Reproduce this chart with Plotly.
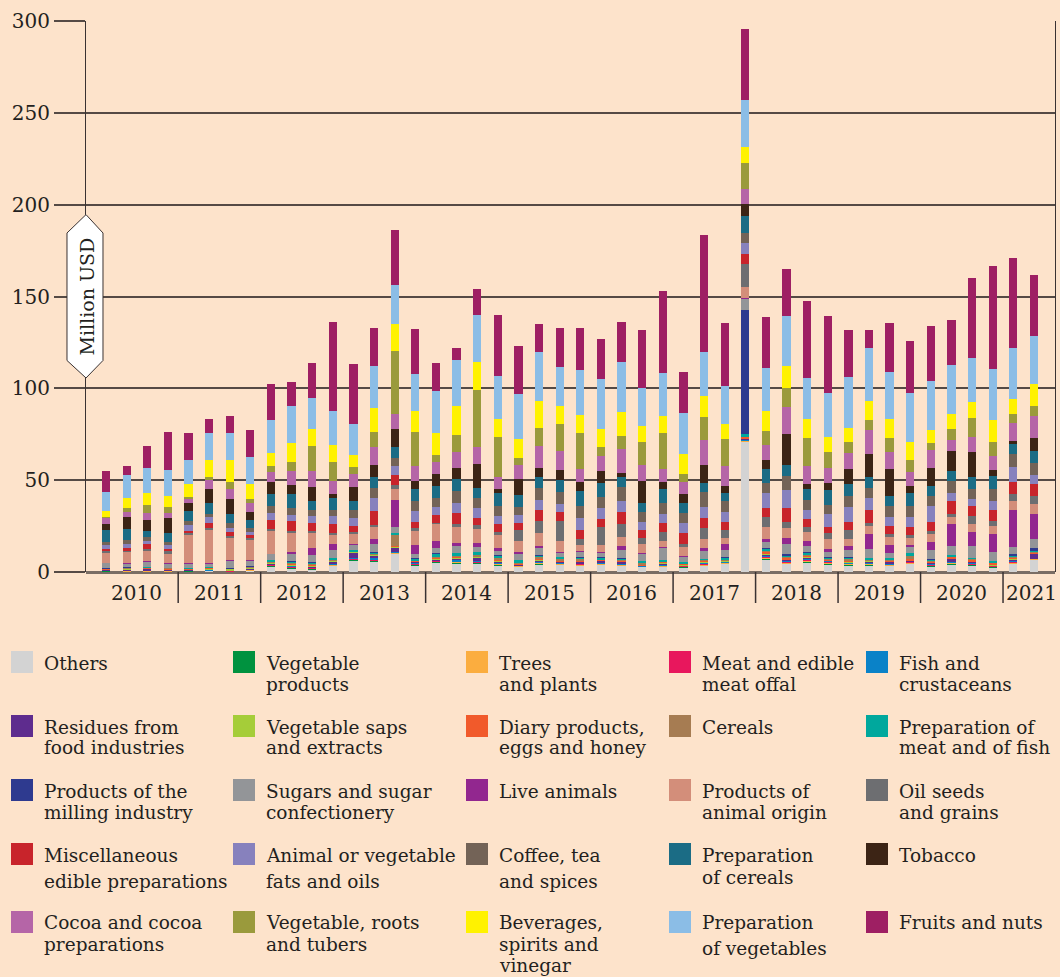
import plotly.graph_objects as go

# ---------------------------------------------------------------- data
years = ["2010", "2011", "2012", "2013", "2014", "2015", "2016",
         "2017", "2018", "2019", "2020", "2021"]
quarters_in_year = [4, 4, 4, 4, 4, 4, 4, 4, 4, 4, 4, 2]

# quarterly values, million USD (stack order, bottom to top)
others = [0.5, 0.4, 0.4, 0.4, 0.5, 0.6, 0.3, 0.8, 2.9, 2.0, 1.5, 3.3, 6.5, 5.8, 10.2, 3.6, 5.1, 4.5, 4.5, 3.5, 2.9, 4.0, 3.9, 3.5,
          3.9, 3.3, 2.9, 2.9, 2.5, 3.3, 4.5, 71.1, 6.8, 4.5, 5.3, 4.3, 3.7, 3.7, 3.3, 4.5, 3.1, 4.2, 3.6, 2.7, 4.5, 6.7]
vegetable_products = [0.1, 0.1, 0.1, 0.1, 0.1, 0.1, 0.1, 0.2, 0.5, 0.3, 0.3, 0.3, 0.1, 0.3, 0.1, 0.3, 0.4, 0.5, 0.4, 0.5, 0.2, 0.4, 0.3, 0.3,
                      0.3, 0.3, 0.1, 0.3, 0.3, 0.4, 0.3, 0.2, 0.4, 0.3, 0.4, 0.3, 0.3, 0.3, 0.3, 0.3, 0.3, 0.3, 0.3, 0.2, 0.3, 0.1]
trees_plants = [0.1, 0.2, 0.1, 0.2, 0.1, 0.2, 0.1, 0.2, 0.4, 0.4, 0.3, 0.4, 0.4, 0.4, 0.2, 0.3, 0.4, 0.5, 0.5, 0.4, 0.3, 0.5, 0.4, 0.4,
                0.4, 0.4, 0.1, 0.3, 0.3, 0.5, 0.3, 0.3, 0.8, 0.6, 0.5, 0.3, 0.4, 0.4, 0.4, 0.4, 0.4, 0.4, 0.3, 0.3, 0.6, 0.3]
meat_offal = [0.1, 0.1, 0.1, 0.1, 0.1, 0.1, 0.1, 0.1, 0.2, 0.2, 0.2, 0.2, 0.1, 0.3, 0.1, 0.2, 0.2, 0.3, 0.3, 0.3, 0.2, 0.3, 0.2, 0.2,
              0.2, 0.2, 0.1, 0.2, 0.2, 0.3, 0.2, 0.2, 0.4, 0.4, 0.6, 0.8, 0.3, 0.3, 0.3, 0.3, 0.3, 0.3, 0.5, 0.2, 0.3, 0.1]
fish_crustaceans = [0.2, 0.2, 0.3, 0.2, 0.2, 0.2, 0.1, 0.3, 0.3, 0.4, 0.4, 0.4, 0.3, 1.0, 0.2, 0.5, 0.3, 0.5, 0.5, 0.4, 0.2, 0.5, 0.4, 0.4,
                    0.5, 0.5, 0.1, 0.5, 0.3, 0.5, 0.3, 0.6, 0.6, 0.5, 0.4, 0.3, 0.3, 0.6, 0.4, 0.3, 0.4, 0.5, 0.5, 0.2, 0.5, 0.1]
residues = [0.3, 0.4, 0.8, 0.3, 0.3, 0.3, 0.2, 0.3, 0.3, 0.4, 0.5, 1.0, 3.3, 1.2, 2.5, 0.6, 0.5, 1.2, 1.5, 0.6, 0.3, 0.8, 0.4, 0.8,
            0.8, 0.8, 0.1, 0.3, 0.2, 0.3, 0.3, 0.3, 0.6, 0.4, 0.8, 0.3, 0.3, 0.4, 0.8, 0.3, 0.5, 1.5, 0.4, 0.2, 0.4, 2.5]
saps_extracts = [0.1, 0.5, 0.2, 0.1, 0.1, 0.2, 0.8, 0.3, 0.4, 0.3, 0.3, 0.4, 0.3, 0.3, 0.7, 0.3, 0.3, 0.4, 0.5, 0.6, 0.2, 0.4, 0.3, 0.3,
                 0.3, 0.3, 0.1, 0.8, 0.2, 0.3, 0.2, 0.2, 0.6, 0.3, 0.3, 0.2, 0.5, 0.3, 0.3, 0.2, 0.2, 0.2, 0.2, 0.1, 0.5, 0.3]
dairy_eggs_honey = [0.3, 0.2, 0.2, 0.6, 0.4, 0.6, 0.2, 0.4, 0.4, 0.5, 0.5, 0.5, 0.3, 0.4, 0.2, 0.3, 0.5, 0.5, 0.5, 0.4, 0.5, 0.5, 0.5, 0.4,
                    0.3, 0.4, 0.1, 0.3, 0.5, 0.6, 0.3, 0.8, 0.9, 1.0, 0.8, 0.5, 0.6, 0.4, 0.4, 0.6, 0.6, 1.0, 1.0, 1.0, 0.8, 0.6]
cereals = [0.2, 0.1, 0.3, 0.2, 0.3, 0.3, 0.1, 0.3, 0.3, 0.6, 0.4, 0.3, 0.0, 0.5, 5.8, 0.4, 0.4, 0.5, 0.5, 1.0, 0.2, 0.5, 0.5, 0.8,
           0.2, 0.4, 1.6, 0.3, 0.2, 0.4, 0.3, 0.3, 0.6, 0.4, 0.5, 0.3, 0.5, 0.4, 0.5, 2.0, 0.3, 0.3, 0.4, 0.1, 0.4, 0.6]
prep_meat_fish = [0.2, 0.2, 0.3, 0.1, 0.2, 0.2, 0.1, 0.3, 0.8, 0.7, 0.8, 0.9, 0.6, 0.6, 1.5, 0.8, 2.0, 1.5, 1.8, 1.5, 1.5, 1.3, 1.3, 0.8,
                  0.8, 0.9, 1.0, 0.5, 0.8, 0.5, 1.2, 1.0, 1.2, 0.8, 1.0, 0.8, 1.2, 0.9, 1.0, 1.2, 0.7, 0.4, 0.6, 1.0, 0.8, 0.1]
milling = [0.1, 0.1, 0.1, 0.1, 0.1, 0.1, 0.1, 0.1, 0.0, 0.2, 0.2, 0.1, 0.0, 0.3, 0.0, 0.1, 0.1, 0.1, 0.1, 0.1, 0.0, 0.1, 0.1, 0.1,
           0.5, 0.1, 0.0, 0.0, 0.0, 0.1, 0.1, 67.7, 0.1, 0.5, 0.1, 0.1, 0.1, 0.1, 0.1, 0.0, 0.5, 0.0, 0.0, 0.0, 0.5, 1.5]
sugars = [2.7, 2.2, 2.7, 2.4, 2.4, 1.8, 4.0, 2.9, 3.3, 3.8, 3.6, 4.2, 3.1, 4.2, 3.1, 2.4, 2.7, 3.6, 2.7, 2.2, 3.6, 4.0, 2.5, 3.1,
          2.5, 4.3, 3.9, 6.8, 2.9, 4.1, 3.9, 6.2, 3.5, 5.5, 3.5, 2.7, 3.6, 4.9, 2.7, 3.6, 4.5, 4.9, 6.2, 4.9, 4.0, 4.9]
live_animals = [0.2, 0.1, 0.2, 0.1, 0.1, 0.1, 0.1, 0.1, 0.2, 1.1, 4.2, 3.1, 0.5, 2.5, 14.5, 4.9, 4.0, 1.5, 2.2, 1.5, 0.9, 1.1, 0.3, 0.3,
                0.3, 2.1, 0.3, 0.3, 0.3, 1.9, 3.1, 0.3, 1.6, 3.3, 2.7, 1.8, 2.5, 8.2, 4.0, 0.9, 4.5, 12.2, 8.0, 9.6, 20.0, 13.6]
animal_origin = [5.4, 6.2, 5.8, 5.4, 15.4, 18.5, 12.5, 11.3, 12.5, 10.5, 7.8, 4.9, 5.4, 6.9, 6.0, 7.8, 9.3, 9.4, 7.4, 7.3, 5.8, 6.7, 6.0, 3.1,
                 3.9, 5.1, 5.1, 3.3, 4.9, 4.7, 3.5, 6.2, 6.2, 5.5, 4.9, 5.5, 3.4, 4.0, 4.4, 3.8, 4.4, 3.8, 4.0, 4.4, 4.9, 5.8]
oil_seeds = [0.9, 0.7, 0.9, 0.9, 0.9, 0.7, 0.9, 1.1, 0.9, 1.1, 1.3, 1.5, 0.9, 0.9, 2.2, 1.3, 0.7, 0.9, 2.0, 1.3, 6.0, 6.7, 10.7, 3.6,
             9.7, 6.8, 3.1, 5.1, 1.9, 5.8, 4.5, 12.3, 5.5, 3.3, 2.5, 2.9, 4.9, 2.0, 1.8, 1.5, 1.5, 1.8, 4.7, 2.9, 4.2, 4.0]
misc_edible = [1.3, 1.3, 2.7, 1.5, 1.3, 2.9, 2.2, 1.5, 4.7, 5.4, 4.5, 4.9, 3.4, 7.8, 5.6, 3.6, 4.2, 6.4, 4.2, 4.5, 4.0, 6.0, 4.7, 4.7,
               4.5, 6.8, 4.1, 4.7, 5.6, 5.8, 4.3, 5.3, 5.1, 7.4, 4.3, 3.3, 4.4, 7.1, 4.4, 4.4, 4.9, 6.7, 5.1, 5.8, 6.4, 6.5]
fats_oils = [2.0, 2.4, 1.8, 1.8, 3.1, 2.9, 2.2, 1.6, 4.0, 3.4, 3.6, 4.2, 4.2, 6.7, 4.9, 5.6, 4.2, 5.4, 5.1, 4.5, 4.0, 5.4, 4.7, 6.4,
             5.8, 5.8, 4.5, 4.9, 5.5, 6.0, 5.3, 6.2, 8.0, 9.7, 5.1, 7.4, 8.3, 6.4, 4.9, 5.4, 9.1, 4.5, 4.2, 4.9, 8.2, 4.9]
coffee_tea = [1.8, 1.8, 2.0, 1.8, 2.0, 1.8, 2.5, 2.0, 3.6, 3.8, 3.6, 3.3, 4.4, 5.4, 4.5, 5.6, 4.9, 6.4, 5.4, 5.6, 4.4, 6.4, 6.4, 6.7,
              5.8, 7.6, 5.5, 6.2, 5.3, 7.8, 5.8, 5.6, 5.6, 8.0, 5.3, 4.9, 6.2, 5.6, 6.2, 6.4, 5.1, 6.5, 5.4, 6.9, 6.7, 6.9]
prep_cereals = [6.2, 6.2, 3.4, 4.9, 5.6, 5.8, 5.1, 4.5, 6.7, 7.1, 4.5, 6.2, 4.7, 6.0, 6.0, 6.4, 6.4, 6.5, 5.4, 6.7, 6.5, 6.0, 6.4, 8.2,
                8.0, 5.5, 4.7, 7.6, 5.8, 5.1, 4.5, 9.1, 7.8, 5.8, 6.2, 7.8, 6.5, 5.8, 5.4, 7.1, 5.6, 5.4, 6.5, 7.1, 5.8, 6.2]
tobacco = [3.4, 6.5, 6.0, 8.2, 4.2, 8.0, 8.3, 4.5, 6.5, 4.9, 7.8, 2.5, 7.8, 6.7, 9.4, 4.7, 6.9, 6.2, 13.2, 2.5, 8.9, 4.9, 5.4, 5.1,
           6.4, 2.3, 11.9, 3.5, 4.5, 9.9, 3.9, 6.4, 4.5, 17.1, 2.9, 4.1, 8.0, 12.3, 14.5, 3.6, 9.6, 10.9, 13.6, 3.3, 1.5, 7.4]
cocoa = [3.4, 2.7, 3.6, 2.7, 2.5, 4.7, 5.1, 4.7, 5.6, 8.0, 8.7, 7.1, 7.3, 10.0, 8.2, 8.0, 6.2, 8.7, 9.4, 6.5, 7.6, 12.3, 10.3, 7.1,
         8.0, 13.2, 8.8, 7.2, 6.6, 13.6, 10.7, 8.2, 8.4, 14.4, 9.5, 8.0, 8.7, 13.1, 9.1, 7.6, 10.0, 5.8, 8.0, 7.3, 10.0, 11.8]
roots_tubers = [0.3, 2.0, 4.5, 3.3, 0.9, 1.8, 4.0, 2.4, 3.4, 4.7, 13.8, 10.3, 3.6, 7.8, 34.5, 18.7, 4.0, 9.1, 30.9, 21.4, 4.0, 9.4, 15.1, 19.6,
                4.7, 6.8, 12.8, 19.9, 4.3, 12.3, 15.0, 14.0, 7.8, 10.5, 15.4, 8.8, 6.2, 5.3, 7.8, 6.5, 3.6, 6.2, 10.5, 7.8, 4.9, 5.3]
beverages = [3.4, 5.6, 6.5, 6.2, 7.1, 9.1, 12.0, 8.0, 7.1, 10.5, 8.9, 9.1, 6.4, 13.4, 14.5, 11.3, 12.0, 15.8, 15.1, 9.8, 10.2, 14.9, 9.8, 9.4,
             10.3, 13.0, 8.8, 8.8, 11.3, 11.7, 8.2, 9.0, 10.7, 11.7, 10.3, 8.2, 7.6, 10.7, 10.3, 9.8, 7.1, 8.2, 8.5, 11.8, 7.8, 12.0]
prep_vegetables = [10.5, 12.5, 13.4, 14.2, 13.2, 14.5, 14.5, 14.9, 17.8, 20.0, 16.9, 18.7, 16.9, 22.7, 21.6, 20.0, 22.7, 24.9, 25.8, 23.6, 24.5, 26.5, 21.2, 24.5,
                   27.1, 27.3, 20.4, 23.4, 22.2, 24.1, 20.8, 25.5, 23.2, 27.3, 22.2, 23.9, 27.6, 28.9, 25.4, 26.9, 27.0, 26.5, 24.1, 27.6, 28.1, 26.5]
fruits_nuts = [11.1, 4.9, 12.2, 20.5, 14.7, 7.8, 9.1, 14.7, 19.6, 13.1, 19.2, 48.5, 32.5, 20.9, 29.9, 24.5, 15.2, 6.7, 14.0, 33.4, 26.3, 15.2, 21.1, 23.2,
               21.4, 21.8, 31.5, 44.8, 22.2, 63.3, 34.3, 38.7, 28.0, 25.9, 42.0, 41.9, 25.4, 9.6, 26.7, 28.3, 29.9, 24.7, 43.6, 56.3, 48.6, 33.2]

series = [
    (["Others"], "#D3D3D3", others),
    (["Vegetable", "products"], "#00923F", vegetable_products),
    (["Trees", "and plants"], "#FBAD3F", trees_plants),
    (["Meat and edible", "meat offal"], "#E8175D", meat_offal),
    (["Fish and", "crustaceans"], "#0A82C8", fish_crustaceans),
    (["Residues from", "food industries"], "#5E2C8E", residues),
    (["Vegetable saps", "and extracts"], "#A5CD39", saps_extracts),
    (["Diary products,", "eggs and honey"], "#F15A2B", dairy_eggs_honey),
    (["Cereals"], "#A67C52", cereals),
    (["Preparation of", "meat and of fish"], "#00A89D", prep_meat_fish),
    (["Products of the", "milling industry"], "#2E3A8F", milling),
    (["Sugars and sugar", "confectionery"], "#939598", sugars),
    (["Live animals"], "#92278F", live_animals),
    (["Products of", "animal origin"], "#D38E7A", animal_origin),
    (["Oil seeds", "and grains"], "#6D6E71", oil_seeds),
    (["Miscellaneous", "edible preparations"], "#C8242B", misc_edible),
    (["Animal or vegetable", "fats and oils"], "#8781BD", fats_oils),
    (["Coffee, tea", "and spices"], "#736357", coffee_tea),
    (["Preparation", "of cereals"], "#1B6C85", prep_cereals),
    (["Tobacco"], "#3C2415", tobacco),
    (["Cocoa and cocoa", "preparations"], "#B565A7", cocoa),
    (["Vegetable, roots", "and tubers"], "#9A9A3C", roots_tubers),
    (["Beverages,", "spirits and", "vinegar"], "#FFF200", beverages),
    (["Preparation", "of vegetables"], "#8BBDE6", prep_vegetables),
    (["Fruits and nuts"], "#9E1F63", fruits_nuts),
]

n_bars = sum(quarters_in_year)
for _, _, vals in series:
    assert len(vals) == n_bars, len(vals)

periods = [f"{y} Q{q + 1}" for y, n in zip(years, quarters_in_year) for q in range(n)]
x = list(range(n_bars))

# ---------------------------------------------------------------- layout helpers
W, H = 1060, 977
PL, PR, PT, PB = 86, 1055, 21, 572          # plot area in pixels
BG = "#FDE3CB"
INK = "#231F20"
GRID = "#554A45"
AXIS = "#3A3232"
FONT = "DejaVu Serif"
X_MIN, X_MAX = -0.97, 46.02


def px(xp):
    return (xp - PL) / (PR - PL)


def py(yp):
    return (PB - yp) / (PB - PT)


fig = go.Figure()
for lines, color, vals in series:
    fig.add_bar(
        x=x, y=vals, name=" ".join(lines), marker_color=color,
        marker_line_width=0, width=0.4, customdata=periods,
        hovertemplate="%{customdata}<br>" + " ".join(lines) + ": %{y}<extra></extra>",
        showlegend=False,
    )

shapes = []
annotations = []

# year separators and labels under the axis
starts = [0]
for n in quarters_in_year:
    starts.append(starts[-1] + n)
for k in range(1, len(years)):
    sep = starts[k] - 0.5
    shapes.append(dict(type="line", xref="x", yref="paper", x0=sep, x1=sep,
                       y0=0, y1=py(603), line=dict(color=AXIS, width=1.5)))
for k, yr in enumerate(years):
    lo = starts[k] - 0.5
    hi = starts[k + 1] - 0.5 if k < len(years) - 1 else X_MAX + 0.2
    annotations.append(dict(text=yr, xref="x", yref="paper", x=(lo + hi) / 2,
                            y=py(593), showarrow=False, xanchor="center",
                            yanchor="middle", font=dict(size=20, color=INK)))

# unit badge on the y axis
hexagon = [(86, 214.6), (103, 233), (103, 360.5), (86, 378), (67, 360.5), (67, 233)]
path = "M " + " L ".join(f"{px(a):.5f},{py(b):.5f}" for a, b in hexagon) + " Z"
shapes.append(dict(type="path", xref="paper", yref="paper", path=path,
                   fillcolor="white", line=dict(color=AXIS, width=1)))
annotations.append(dict(text="Million USD", xref="paper", yref="paper",
                        x=px(86), y=py(296.5), textangle=-90, showarrow=False,
                        xanchor="center", yanchor="middle",
                        font=dict(size=19, color=INK)))

# legend block: 5 columns x 5 rows
col_sq = [11, 233, 466, 669, 866]
row_top = [651, 715, 779, 843, 911]
for k, (lines, color, _) in enumerate(series):
    r, c = divmod(k, 5)
    x0, y0 = col_sq[c], row_top[r]
    shapes.append(dict(type="rect", xref="paper", yref="paper",
                       x0=px(x0), x1=px(x0 + 22), y0=py(y0), y1=py(y0 + 22),
                       fillcolor=color, line=dict(width=0)))
    gap = 21
    if r == 3:
        gap = 22 if c == 3 else 26
    if r == 4 and c == 3:
        gap = 25
    for j, line in enumerate(lines):
        annotations.append(dict(text=line, xref="paper", yref="paper",
                                x=px(x0 + 31), y=py(y0 + 12 + j * gap),
                                showarrow=False, xanchor="left", yanchor="middle",
                                font=dict(size=18.5, color=INK)))

fig.update_layout(
    width=W, height=H, barmode="stack", bargap=0,
    margin=dict(l=PL, r=W - PR, t=PT, b=H - PB, pad=0),
    paper_bgcolor=BG, plot_bgcolor=BG,
    font=dict(family=FONT, color=INK),
    shapes=shapes, annotations=annotations,
    xaxis=dict(range=[X_MIN, X_MAX], showticklabels=False, showgrid=False,
               zeroline=False, showline=False, fixedrange=True),
    yaxis=dict(range=[0, 300], tickvals=[0, 50, 100, 150, 200, 250, 300],
               showgrid=True, gridcolor=GRID, gridwidth=1.5,
               ticks="outside", ticklen=31, tickwidth=1.5, tickcolor=GRID,
               tickfont=dict(size=20, color=INK),
               showline=True, linecolor=AXIS, linewidth=1.2, mirror=True,
               zeroline=True, zerolinecolor="#7A6D64", zerolinewidth=2.5,
               fixedrange=True),
)

fig.write_html("out.html")
